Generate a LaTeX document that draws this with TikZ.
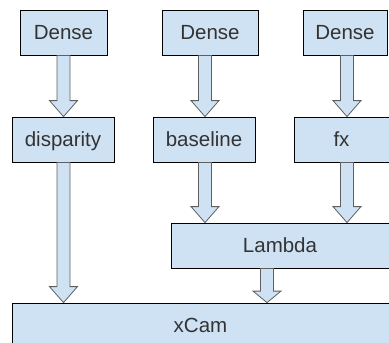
\documentclass[tikz,border=0pt]{standalone}
\usepackage{fontspec}
\setmainfont{Liberation Sans}
\usetikzlibrary{calc}
\definecolor{boxblue}{HTML}{CFE2F3}
\definecolor{textgray}{HTML}{333333}
\definecolor{arrowgray}{HTML}{5F5F5F}

% block arrow: [head length]{from}{to}{column}
\newcommand{\blockarrow}[4][16]{%
  \coordinate (s) at (#2.south -| #4);
  \coordinate (t) at (#3.north -| #4);
  \draw[arrowbody] ($(s)+(-6.5,0)$) -- ($(t)+(-6.5,-#1)$) -- ($(t)+(-14,-#1)$) -- (t)
    -- ($(t)+(14,-#1)$) -- ($(t)+(6.5,-#1)$) -- ($(s)+(6.5,0)$) -- cycle;}

\begin{document}
\begin{tikzpicture}[x=1pt, y=-1pt,
  layer/.style={draw=black, line width=0.8pt, fill=boxblue, text=textgray, inner sep=0pt,
    minimum height=45, text height=13.5, text depth=0, font=\fontsize{20.5}{24}\selectfont},
  arrowbody/.style={draw=arrowgray, line width=0.8pt, fill=boxblue, line join=miter}]
  \clip (0,0) rectangle (389,343);

  % inputs
  \node[layer, minimum width=87] (dense1) at (63.5,32.5) {Dense};
  \node[layer, minimum width=96] (dense2) at (210,32.5) {Dense};
  \node[layer, minimum width=84] (dense3) at (345,32.5) {Dense};

  % middle row
  \node[layer, minimum width=102] (disparity) at (63,139.5) {disparity};
  \node[layer, minimum width=102] (baseline) at (204,139.5) {baseline};
  \node[layer, minimum width=95] (fx) at (341.5,139.5) {fx};

  \node[layer, minimum width=218] (lambda) at (280,245.5) {Lambda};
  \node[layer, minimum width=377] (xcam) at (200.5,325.5) {xCam};

  % arrow columns
  \coordinate (c1) at (63.5,0);
  \coordinate (c2) at (205,0);
  \coordinate (c3) at (347,0);
  \coordinate (c4) at (267,0);

  \blockarrow{dense1}{disparity}{c1}
  \blockarrow{dense2}{baseline}{c2}
  \blockarrow{dense3}{fx}{c3}
  \blockarrow{baseline}{lambda}{c2}
  \blockarrow{fx}{lambda}{c3}
  \blockarrow{disparity}{xcam}{c1}
  \blockarrow[11.5]{lambda}{xcam}{c4}
\end{tikzpicture}
\end{document}
